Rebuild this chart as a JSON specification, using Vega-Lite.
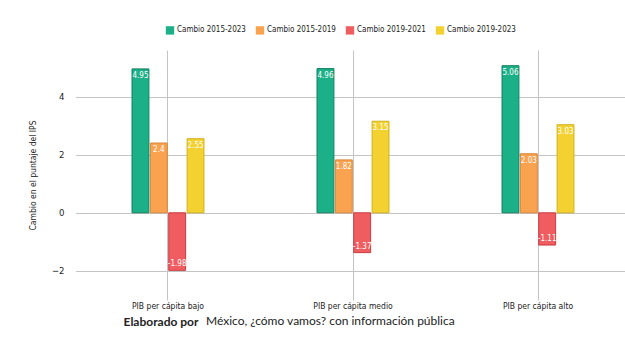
{
  "$schema": "https://vega.github.io/schema/vega-lite/v6.json",
  "width": 541,
  "height": 250,
  "autosize": {"type": "none"},
  "padding": {"left": 70, "top": 50, "right": 14, "bottom": 60},
  "background": "white",
  "config": {
    "view": {"stroke": null},
    "font": "DejaVu Sans Condensed",
    "legend": {"layout": {"top": {"anchor": "middle"}}}
  },
  "title": {
    "text": "México, ¿cómo vamos? con información pública",
    "orient": "bottom",
    "anchor": "start",
    "frame": "group",
    "dx": 136,
    "offset": -11,
    "font": "Lato",
    "fontSize": 12,
    "fontWeight": "normal",
    "color": "#222222"
  },
  "data": {
    "values": [
      {"group": "PIB per cápita bajo", "series": "Cambio 2015-2023", "value": 4.95},
      {"group": "PIB per cápita bajo", "series": "Cambio 2015-2019", "value": 2.4},
      {"group": "PIB per cápita bajo", "series": "Cambio 2019-2021", "value": -1.98},
      {"group": "PIB per cápita bajo", "series": "Cambio 2019-2023", "value": 2.55},
      {"group": "PIB per cápita medio", "series": "Cambio 2015-2023", "value": 4.96},
      {"group": "PIB per cápita medio", "series": "Cambio 2015-2019", "value": 1.82},
      {"group": "PIB per cápita medio", "series": "Cambio 2019-2021", "value": -1.37},
      {"group": "PIB per cápita medio", "series": "Cambio 2019-2023", "value": 3.15},
      {"group": "PIB per cápita alto", "series": "Cambio 2015-2023", "value": 5.06},
      {"group": "PIB per cápita alto", "series": "Cambio 2015-2019", "value": 2.03},
      {"group": "PIB per cápita alto", "series": "Cambio 2019-2021", "value": -1.11},
      {"group": "PIB per cápita alto", "series": "Cambio 2019-2023", "value": 3.03}
    ]
  },
  "encoding": {
    "x": {
      "field": "group",
      "type": "nominal",
      "sort": ["PIB per cápita bajo", "PIB per cápita medio", "PIB per cápita alto"],
      "scale": {"range": [5.5, 560.5], "paddingInner": 0.611, "paddingOuter": 0.3055},
      "axis": {
        "title": "Elaborado por",
        "titleFont": "Lato",
        "titleFontSize": 12,
        "titleFontWeight": "bold",
        "titleColor": "#222222",
        "titleAnchor": "start",
        "titleBaseline": "middle",
        "titleX": 53,
        "titleY": 21,
        "labelAngle": 0,
        "labelFontSize": 8.5,
        "labelColor": "#222222",
        "labelPadding": 1,
        "domain": false,
        "ticks": false,
        "grid": true,
        "bandPosition": 0.5,
        "gridColor": "#c4c4c4",
        "gridWidth": 1
      }
    },
    "xOffset": {
      "field": "series",
      "type": "nominal",
      "sort": ["Cambio 2015-2023", "Cambio 2015-2019", "Cambio 2019-2021", "Cambio 2019-2023"],
      "scale": {"paddingInner": 0.08, "paddingOuter": 0}
    },
    "y": {
      "field": "value",
      "type": "quantitative",
      "scale": {"domain": [-3, 5.6], "nice": false, "zero": false},
      "axis": {
        "values": [-2, 0, 2, 4],
        "title": "Cambio en el puntaje del IPS",
        "titleFontSize": 8.5,
        "titleFontWeight": "normal",
        "titleColor": "#222222",
        "titlePadding": 14,
        "labelFontSize": 9.5,
        "labelColor": "#222222",
        "labelPadding": 6,
        "domain": false,
        "ticks": false,
        "gridColor": "#c4c4c4",
        "gridWidth": 1
      }
    }
  },
  "layer": [
    {
      "mark": {"type": "bar", "strokeWidth": 1},
      "encoding": {
        "color": {
          "field": "series",
          "type": "nominal",
          "sort": ["Cambio 2015-2023", "Cambio 2015-2019", "Cambio 2019-2021", "Cambio 2019-2023"],
          "scale": {"range": ["#1bb087", "#f9a24f", "#f05d60", "#f2d131"]},
          "legend": {
            "title": null,
            "orient": "top",
            "direction": "horizontal",
            "symbolType": "square",
            "symbolSize": 70,
            "symbolStrokeWidth": 1,
            "symbolOpacity": 1,
            "labelFontSize": 8,
            "labelColor": "#222222",
            "labelOffset": 2,
            "columnPadding": 9,
            "offset": 15
          }
        },
        "stroke": {
          "field": "series",
          "type": "nominal",
          "sort": ["Cambio 2015-2023", "Cambio 2015-2019", "Cambio 2019-2021", "Cambio 2019-2023"],
          "scale": {"range": ["#118060", "#d9863a", "#c83d42", "#d2b21e"]},
          "legend": null
        }
      }
    },
    {
      "transform": [{"filter": "datum.value >= 0"}],
      "mark": {"type": "text", "baseline": "top", "dy": 3, "color": "white", "fontSize": 8},
      "encoding": {"text": {"field": "value", "type": "nominal"}}
    },
    {
      "transform": [{"filter": "datum.value < 0"}],
      "mark": {"type": "text", "baseline": "bottom", "dy": -2, "color": "white", "fontSize": 8},
      "encoding": {"text": {"field": "value", "type": "nominal"}}
    }
  ]
}
